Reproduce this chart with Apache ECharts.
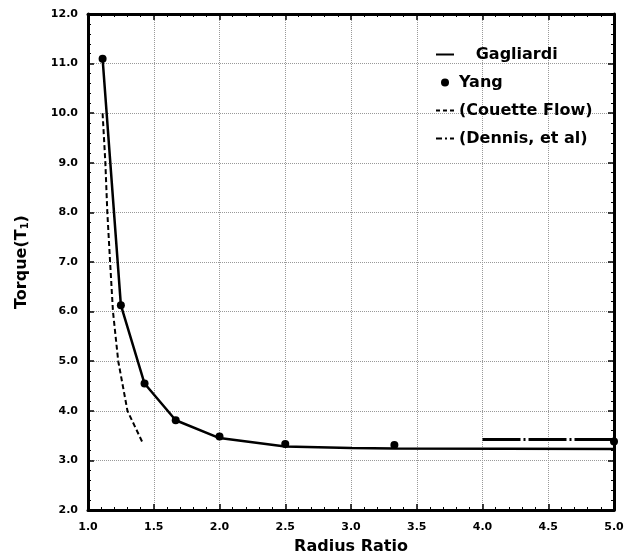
<!DOCTYPE html>
<html>
<head>
<meta charset="utf-8">
<script src="https://cdn.jsdelivr.net/npm/echarts@6/dist/echarts.min.js"></script>
<style>
  html, body { margin: 0; padding: 0; background: #fff; }
  #chart { width: 626px; height: 554px; }
</style>
</head>
<body>
<div id="chart"></div>
<script>
// radius ratio vs torque
var gagliardi = [[1.111, 11.1], [1.25, 6.13], [1.43, 4.55], [1.667, 3.81], [2.0, 3.45], [2.5, 3.28], [3.0, 3.25], [3.33, 3.24], [5.0, 3.23]];
var yang = [[1.111, 11.1], [1.25, 6.13], [1.43, 4.55], [1.667, 3.81], [2.0, 3.48], [2.5, 3.33], [3.33, 3.31], [5.0, 3.38]];
var couette = [[1.111, 10.0], [1.132, 9.0], [1.147, 8.0], [1.168, 7.0], [1.19, 6.0], [1.23, 5.0], [1.30, 4.0], [1.42, 3.33]];
var dennis = [[4.0, 3.42], [5.0, 3.42]];

var font = 'DejaVu Sans';
var myChart = echarts.init(document.getElementById('chart'));

function frameAxis(pos, isX, show) {
  var ax = {
    type: 'value',
    position: pos,
    min: isX ? 1 : 2,
    max: isX ? 5 : 12,
    interval: isX ? 0.5 : 1,
    axisLine: { show: true, onZero: false, lineStyle: { color: '#000', width: 3 } },
    axisTick: { show: true, inside: true, length: 6, lineStyle: { color: '#000', width: 1.5 } },
    minorTick: { show: true, splitNumber: 5, length: 3, lineStyle: { color: '#000', width: 1 } },
    splitLine: { show: show, lineStyle: { color: '#999', type: 'dotted', width: 1 } },
    axisLabel: {
      show: show,
      color: '#000',
      fontFamily: font,
      fontWeight: 'bold',
      fontSize: 11,
      margin: isX ? 12 : 10,
      formatter: function (v) { return v.toFixed(1); }
    }
  };
  if (show) {
    ax.name = isX ? 'Radius Ratio' : 'Torque(T{s|1})';
    ax.nameLocation = 'middle';
    ax.nameGap = isX ? 29 : 58;
    ax.nameTextStyle = {
      color: '#000', fontFamily: font, fontWeight: 'bold', fontSize: 16,
      rich: { s: { fontSize: 10, fontWeight: 'bold', fontFamily: font, verticalAlign: 'bottom', padding: [7, 0, 0, 0] } }
    };
  }
  return ax;
}

var hideSym = { opacity: 0 };

myChart.setOption({
  animation: false,
  backgroundColor: '#fff',
  grid: { left: 88, right: 12, top: 14, bottom: 44, outerBoundsMode: 'none' },
  legend: {
    orient: 'vertical',
    left: 430,
    top: 41,
    itemWidth: 18,
    itemHeight: 8,
    itemGap: 11,
    textStyle: { color: '#000', fontFamily: font, fontWeight: 'bold', fontSize: 16, lineHeight: 17 },
    formatter: function (name) { return name === 'Gagliardi' ? '   ' + name : name; },
    data: [
      { name: 'Gagliardi', itemStyle: hideSym },
      { name: 'Yang', icon: 'circle' },
      { name: '(Couette Flow)', itemStyle: hideSym, lineStyle: { type: [4, 3] } },
      { name: '(Dennis, et al)', itemStyle: hideSym, lineStyle: { type: [6, 3, 2, 3] } }
    ]
  },
  xAxis: [frameAxis('bottom', true, true), frameAxis('top', true, false)],
  yAxis: [frameAxis('left', false, true), frameAxis('right', false, false)],
  series: [
    {
      name: 'Gagliardi',
      type: 'line',
      data: gagliardi,
      symbol: 'none',
      lineStyle: { color: '#000', width: 2.5 },
      itemStyle: { color: '#000' }
    },
    {
      name: 'Yang',
      type: 'scatter',
      data: yang,
      symbol: 'circle',
      symbolSize: 8,
      itemStyle: { color: '#000', opacity: 1 }
    },
    {
      name: '(Couette Flow)',
      type: 'line',
      data: couette,
      symbol: 'none',
      lineStyle: { color: '#000', width: 2, type: [5, 3] },
      itemStyle: { color: '#000' }
    },
    {
      name: '(Dennis, et al)',
      type: 'line',
      data: dennis,
      symbol: 'none',
      lineStyle: { color: '#000', width: 3, type: [38, 3, 2, 3] },
      itemStyle: { color: '#000' }
    }
  ]
});
</script>
</body>
</html>
